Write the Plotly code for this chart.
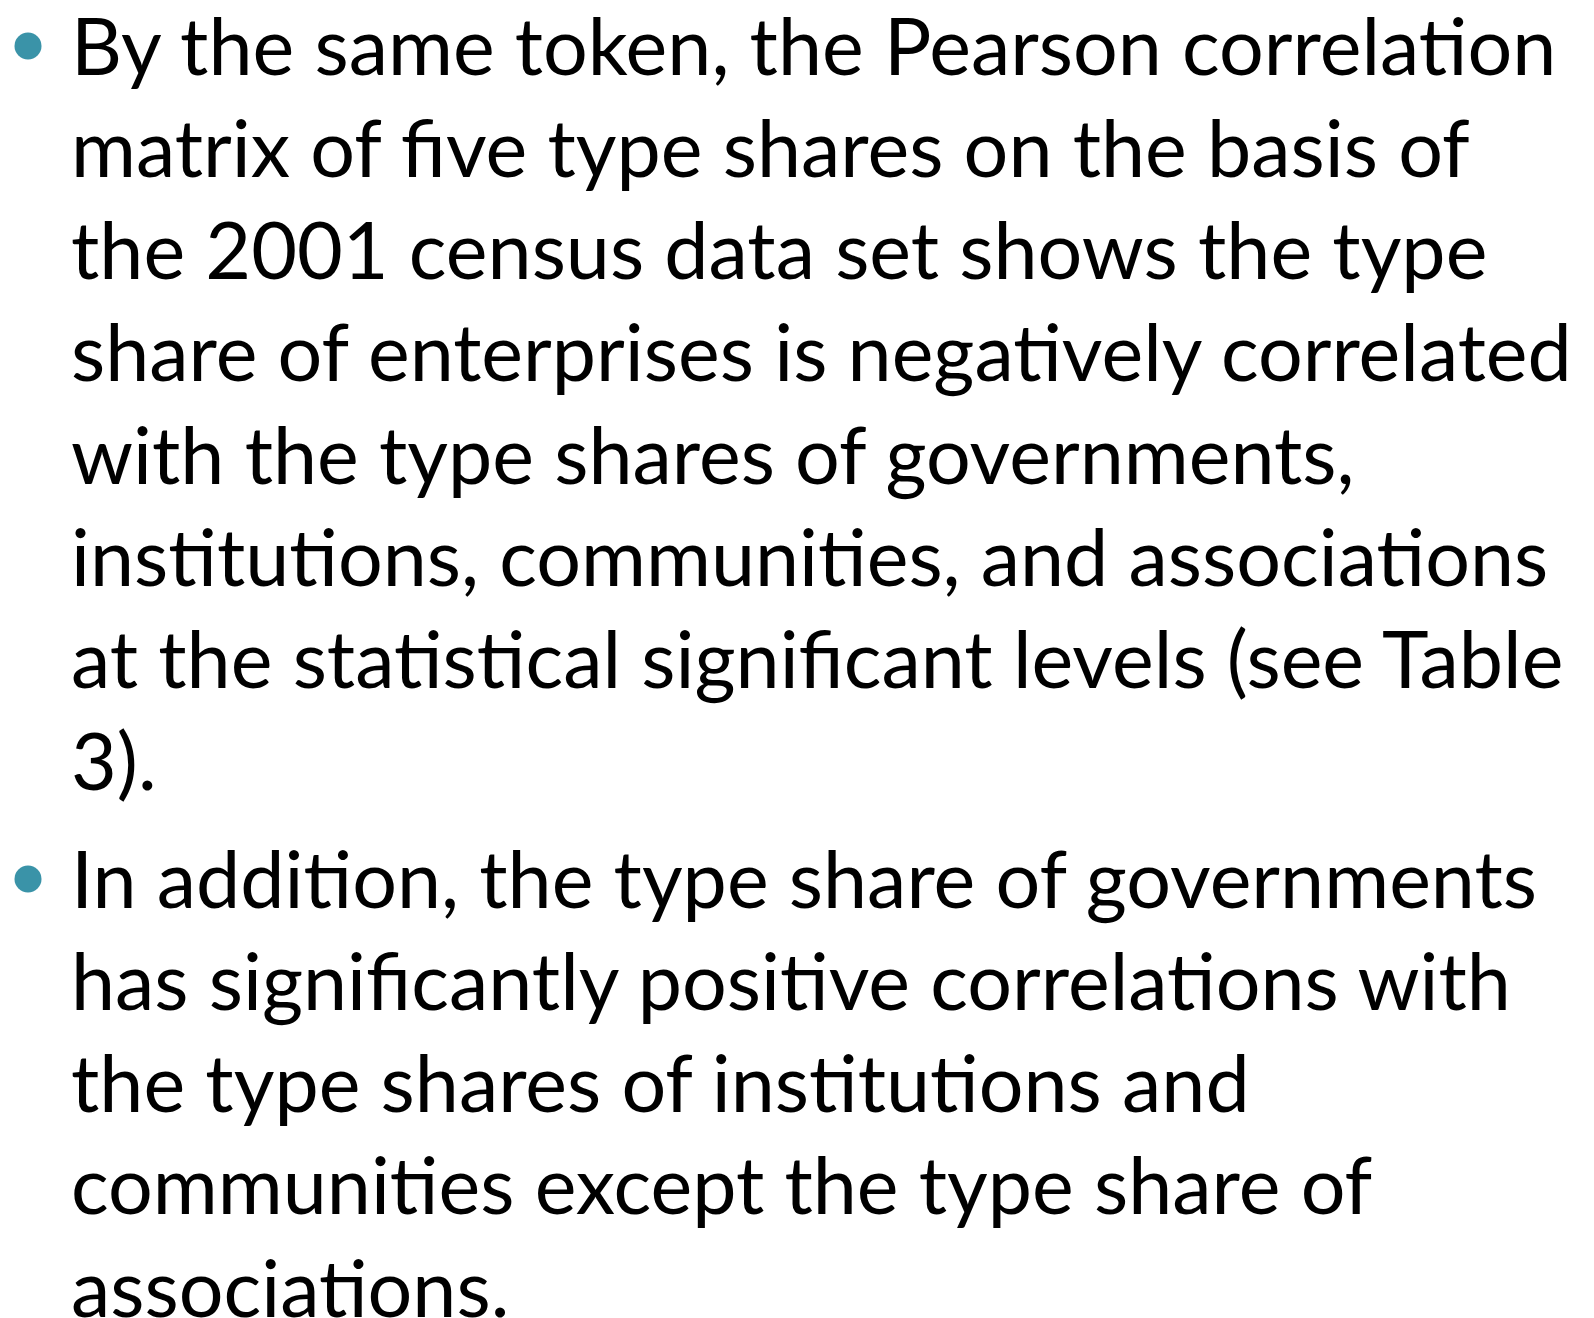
import plotly.graph_objects as go

W, H = 1594, 1318

# Slide text: each paragraph is a list of wrapped lines
paragraph_1 = [
    "By the same token, the Pearson correlation",
    "matrix of five type shares on the basis of",
    "the 2001 census data set shows the type",
    "share of enterprises is negatively correlated",
    "with the type shares of governments,",
    "institutions, communities, and associations",
    "at the statistical significant levels (see Table",
    "3).",
]
paragraph_2 = [
    "In addition, the type share of governments",
    "has significantly positive correlations with",
    "the type shares of institutions and",
    "communities except the type share of",
    "associations.",
]
paragraphs = [paragraph_1, paragraph_2]

BULLET_COLOR = "#3A93A8"
FONT = "Lato"
FONT_SIZE = 79
TEXT_X = 61
BULLET_X = 20
FIRST_Y = 36
BULLET_DY = 2
LINE_H = 102.25
PARA_GAP = 15

fig = go.Figure()
annotations = []
bullet_x, bullet_y = [], []
y = FIRST_Y
for p in paragraphs:
    bullet_x.append(BULLET_X)
    bullet_y.append(y + BULLET_DY)
    for line in p:
        annotations.append(dict(
            x=TEXT_X, y=y, xref="x", yref="y", text=line, showarrow=False,
            xanchor="left", yanchor="middle",
            font=dict(family=FONT, size=FONT_SIZE, color="#000000"),
        ))
        y += LINE_H
    y += PARA_GAP

fig.add_trace(go.Scatter(
    x=bullet_x, y=bullet_y, mode="markers",
    marker=dict(symbol="circle", size=27, color=BULLET_COLOR),
    hoverinfo="skip", showlegend=False,
))

fig.update_layout(
    width=W, height=H, margin=dict(l=0, r=0, t=0, b=0),
    paper_bgcolor="white", plot_bgcolor="white",
    xaxis=dict(range=[0, W], visible=False, fixedrange=True),
    yaxis=dict(range=[H, 0], visible=False, fixedrange=True),
    annotations=annotations, showlegend=False,
)
fig.write_html("out.html")
